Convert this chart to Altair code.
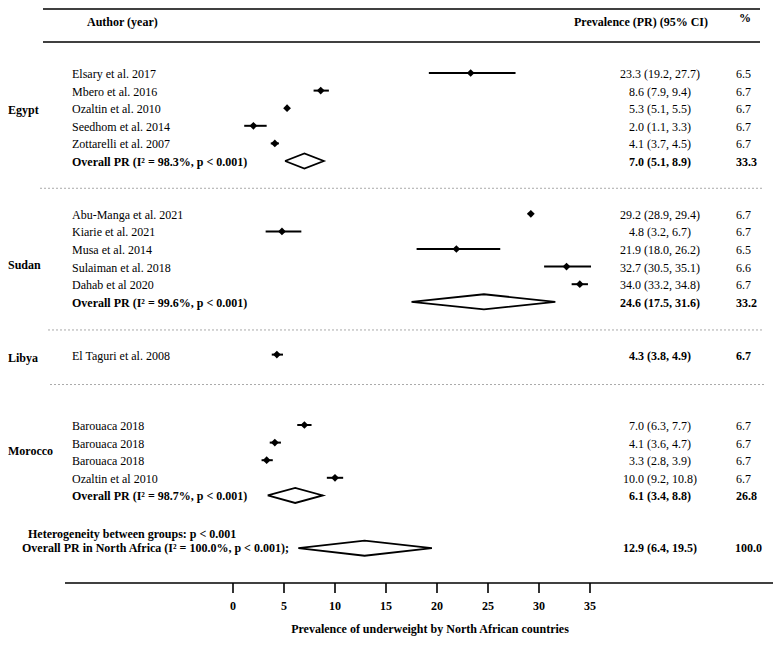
import altair as alt
import pandas as pd

# ---------------- data ----------------
countries = ["Egypt", "Sudan", "Libya", "Morocco"]
studies = [
    ["Elsary et al. 2017", "Mbero et al. 2016", "Ozaltin et al. 2010",
     "Seedhom et al. 2014", "Zottarelli et al. 2007"],
    ["Abu-Manga et al. 2021", "Kiarie et al. 2021", "Musa et al.  2014",
     "Sulaiman et al. 2018", "Dahab et al 2020"],
    ["El Taguri et al.  2008"],
    ["Barouaca 2018", "Barouaca 2018", "Barouaca 2018", "Ozaltin et al 2010"],
]
est = [[23.3, 8.6, 5.3, 2.0, 4.1], [29.2, 4.8, 21.9, 32.7, 34.0], [4.3], [7.0, 4.1, 3.3, 10.0]]
lo = [[19.2, 7.9, 5.1, 1.1, 3.7], [28.9, 3.2, 18.0, 30.5, 33.2], [3.8], [6.3, 3.6, 2.8, 9.2]]
hi = [[27.7, 9.4, 5.5, 3.3, 4.5], [29.4, 6.7, 26.2, 35.1, 34.8], [4.9], [7.7, 4.7, 3.9, 10.8]]
weights = [[6.5, 6.7, 6.7, 6.7, 6.7], [6.7, 6.7, 6.5, 6.6, 6.7], [6.7], [6.7, 6.7, 6.7, 6.7]]

sub_i2 = [98.3, 99.6, None, 98.7]
sub_est = [7.0, 24.6, None, 6.1]
sub_lo = [5.1, 17.5, None, 3.4]
sub_hi = [8.9, 31.6, None, 8.8]
sub_w = [33.3, 33.2, None, 26.8]

overall_est, overall_lo, overall_hi = 12.9, 6.4, 19.5
overall_i2, overall_w = 100.0, 100.0
heterogeneity_text = "Heterogeneity between groups: p < 0.001"

ticks = [0, 5, 10, 15, 20, 25, 30, 35]
axis_title = "Prevalence of underweight by North African countries"

# ---------------- layout ----------------
W, H = 767, 632
XMIN = -225 / 10.2
XMAX = XMIN + W / 10.2
ROW_PX = 17.6
YMIN = -65 / ROW_PX
YMAX = YMIN + H / ROW_PX
group_start = [0, 8, 16, 20]
country_label_rows = [2.1, 10.9, 16.2, 21.5]
separator_rows = [6.55, 14.6, 17.7]
separator_x0 = [32, 40, 42]
het_row, overall_row = 26.2, 27.0
axis_row, tick_end_row, tick_label_row, title_row = 28.98, 29.55, 30.3, 31.6
DIAMOND_H = 0.43

xs = alt.Scale(domain=[XMIN, XMAX], nice=False, zero=False)
ys = alt.Scale(domain=[YMIN, YMAX], nice=False, zero=False, reverse=True)

# ---------------- build tables ----------------
study_rows, label_rows, diamonds = [], [], []
for g, c in enumerate(countries):
    r = group_start[g]
    single = len(studies[g]) == 1
    for i, name in enumerate(studies[g]):
        study_rows.append(dict(row=r, est=est[g][i], lo=lo[g][i], hi=hi[g][i]))
        label_rows.append(dict(row=r, label=name, bold=False,
                               ci=f"{est[g][i]:.1f} ({lo[g][i]:.1f}, {hi[g][i]:.1f})",
                               w=f"{weights[g][i]:.1f}", numbold=single))
        r += 1
    if sub_est[g] is not None:
        label_rows.append(dict(row=r, label=f"Overall PR (I\u00b2 = {sub_i2[g]:.1f}%, p < 0.001)",
                               bold=True,
                               ci=f"{sub_est[g]:.1f} ({sub_lo[g]:.1f}, {sub_hi[g]:.1f})",
                               w=f"{sub_w[g]:.1f}", numbold=True))
        diamonds.append((c, r, sub_lo[g], sub_est[g], sub_hi[g]))

diamonds.append(("all", overall_row, overall_lo, overall_est, overall_hi))

dia_pts = []
for did, r, l, e, h in diamonds:
    pts = [(l, r), (e, r - DIAMOND_H), (h, r), (e, r + DIAMOND_H), (l, r)]
    for k, (px, py) in enumerate(pts):
        dia_pts.append(dict(id=did, ord=k, x=px, y=py))

studies_df = pd.DataFrame(study_rows)
labels_df = pd.DataFrame(label_rows)
dia_df = pd.DataFrame(dia_pts)
country_df = pd.DataFrame(dict(country=countries, row=country_label_rows))
sep_df = pd.DataFrame(dict(row=separator_rows, x0=separator_x0))
tick_df = pd.DataFrame(dict(t=ticks, lab=[str(t) for t in ticks], r0=axis_row, r1=tick_end_row,
                            rl=tick_label_row))
overall_df = pd.DataFrame([
    dict(row=het_row, label=heterogeneity_text, ci="", w=""),
    dict(row=overall_row, label=f"Overall  PR in North Africa (I\u00b2 = {overall_i2:.1f}%, p < 0.001);",
         ci=f"{overall_est:.1f} ({overall_lo:.1f}, {overall_hi:.1f})", w=f"{overall_w:.1f}"),
])
header_df = pd.DataFrame(dict(row=[-3.64, -1.76]))
header_txt = pd.DataFrame(dict(row=[-2.9], a=["Author (year)"], b=["Prevalence (PR) (95% CI)"]))
pct_txt = pd.DataFrame(dict(row=[-3.1], t=["%"]))
axis_df = pd.DataFrame(dict(row=[axis_row]))
title_df = pd.DataFrame(dict(row=[title_row], t=[axis_title]))

Y = lambda f: alt.Y(f, scale=ys, axis=None)
X = lambda f: alt.X(f, scale=xs, axis=None)

base_txt = dict(font="Liberation Serif", fontSize=12, color="black", baseline="middle")

layers = []
# header lines
layers.append(alt.Chart(header_df).mark_rule(color="black", strokeWidth=1.6).encode(
    x=alt.value(35), x2=alt.value(752), y=Y("row:Q")))
layers.append(alt.Chart(header_txt).mark_text(align="left", fontWeight="bold", **base_txt).encode(
    x=alt.value(79), y=Y("row:Q"), text="a:N"))
layers.append(alt.Chart(header_txt).mark_text(align="center", fontWeight="bold", **base_txt).encode(
    x=alt.value(633), y=Y("row:Q"), text="b:N"))
layers.append(alt.Chart(pct_txt).mark_text(align="center", fontWeight="bold", **base_txt).encode(
    x=alt.value(737), y=Y("row:Q"), text="t:N"))
# separators
layers.append(alt.Chart(sep_df).mark_rule(color="#aaaaaa", strokeWidth=1, strokeDash=[2, 2]).encode(
    x=alt.X("x0:Q", scale=None), x2=alt.value(756), y=Y("row:Q")))
# country labels
layers.append(alt.Chart(country_df).mark_text(align="left", fontWeight="bold", **base_txt).encode(
    x=alt.value(0), y=Y("row:Q"), text="country:N"))
# study / summary labels
layers.append(alt.Chart(labels_df).transform_filter("!datum.bold").mark_text(
    align="left", dy=1, **base_txt).encode(x=alt.value(64), y=Y("row:Q"), text="label:N"))
layers.append(alt.Chart(labels_df).transform_filter("datum.bold").mark_text(
    align="left", dy=1, fontWeight="bold", **base_txt).encode(x=alt.value(64), y=Y("row:Q"), text="label:N"))
# CI texts and weights
for flag, fw in [("!datum.numbold", "normal"), ("datum.numbold", "bold")]:
    layers.append(alt.Chart(labels_df).transform_filter(flag).mark_text(
        align="center", dy=1, fontWeight=fw, **base_txt).encode(x=alt.value(652), y=Y("row:Q"), text="ci:N"))
    layers.append(alt.Chart(labels_df).transform_filter(flag).mark_text(
        align="left", dy=1, fontWeight=fw, **base_txt).encode(x=alt.value(728), y=Y("row:Q"), text="w:N"))
# overall labels
layers.append(alt.Chart(overall_df.iloc[[0]]).mark_text(align="left", fontWeight="bold", **base_txt).encode(
    x=alt.value(20), y=Y("row:Q"), text="label:N"))
layers.append(alt.Chart(overall_df.iloc[[1]]).mark_text(align="left", fontWeight="bold", **base_txt).encode(
    x=alt.value(14), y=Y("row:Q"), text="label:N"))
layers.append(alt.Chart(overall_df.iloc[[1]]).mark_text(align="center", fontWeight="bold", **base_txt).encode(
    x=alt.value(652), y=Y("row:Q"), text="ci:N"))
layers.append(alt.Chart(overall_df.iloc[[1]]).mark_text(align="left", fontWeight="bold", **base_txt).encode(
    x=alt.value(727), y=Y("row:Q"), text="w:N"))
# CI lines and markers
layers.append(alt.Chart(studies_df).mark_rule(color="black", strokeWidth=2).encode(
    x=X("lo:Q"), x2="hi:Q", y=Y("row:Q")))
layers.append(alt.Chart(studies_df).mark_point(shape="diamond", filled=True, size=60, color="black",
                                               opacity=1).encode(x=X("est:Q"), y=Y("row:Q")))
# diamonds
layers.append(alt.Chart(dia_df).mark_line(color="black", strokeWidth=1.8, strokeJoin="miter").encode(
    x=X("x:Q"), y=Y("y:Q"), detail="id:N", order="ord:Q"))
# axis
layers.append(alt.Chart(axis_df).mark_rule(color="black", strokeWidth=1.6).encode(
    x=alt.value(57), x2=alt.value(765), y=Y("row:Q")))
layers.append(alt.Chart(tick_df).mark_rule(color="black", strokeWidth=1.6).encode(
    x=X("t:Q"), y=Y("r0:Q"), y2="r1:Q"))
layers.append(alt.Chart(tick_df).mark_text(align="center", fontWeight="bold", **base_txt).encode(
    x=X("t:Q"), y=Y("rl:Q"), text="lab:N"))
layers.append(alt.Chart(title_df).mark_text(align="center", fontWeight="bold", **base_txt).encode(
    x=alt.value(422), y=Y("row:Q"), text="t:N"))

chart = alt.layer(*layers).properties(
    width=W, height=H, padding=0, autosize="none"
).configure_view(stroke=None)

chart.save("out.html", embed_options={"renderer": "svg", "actions": False})
